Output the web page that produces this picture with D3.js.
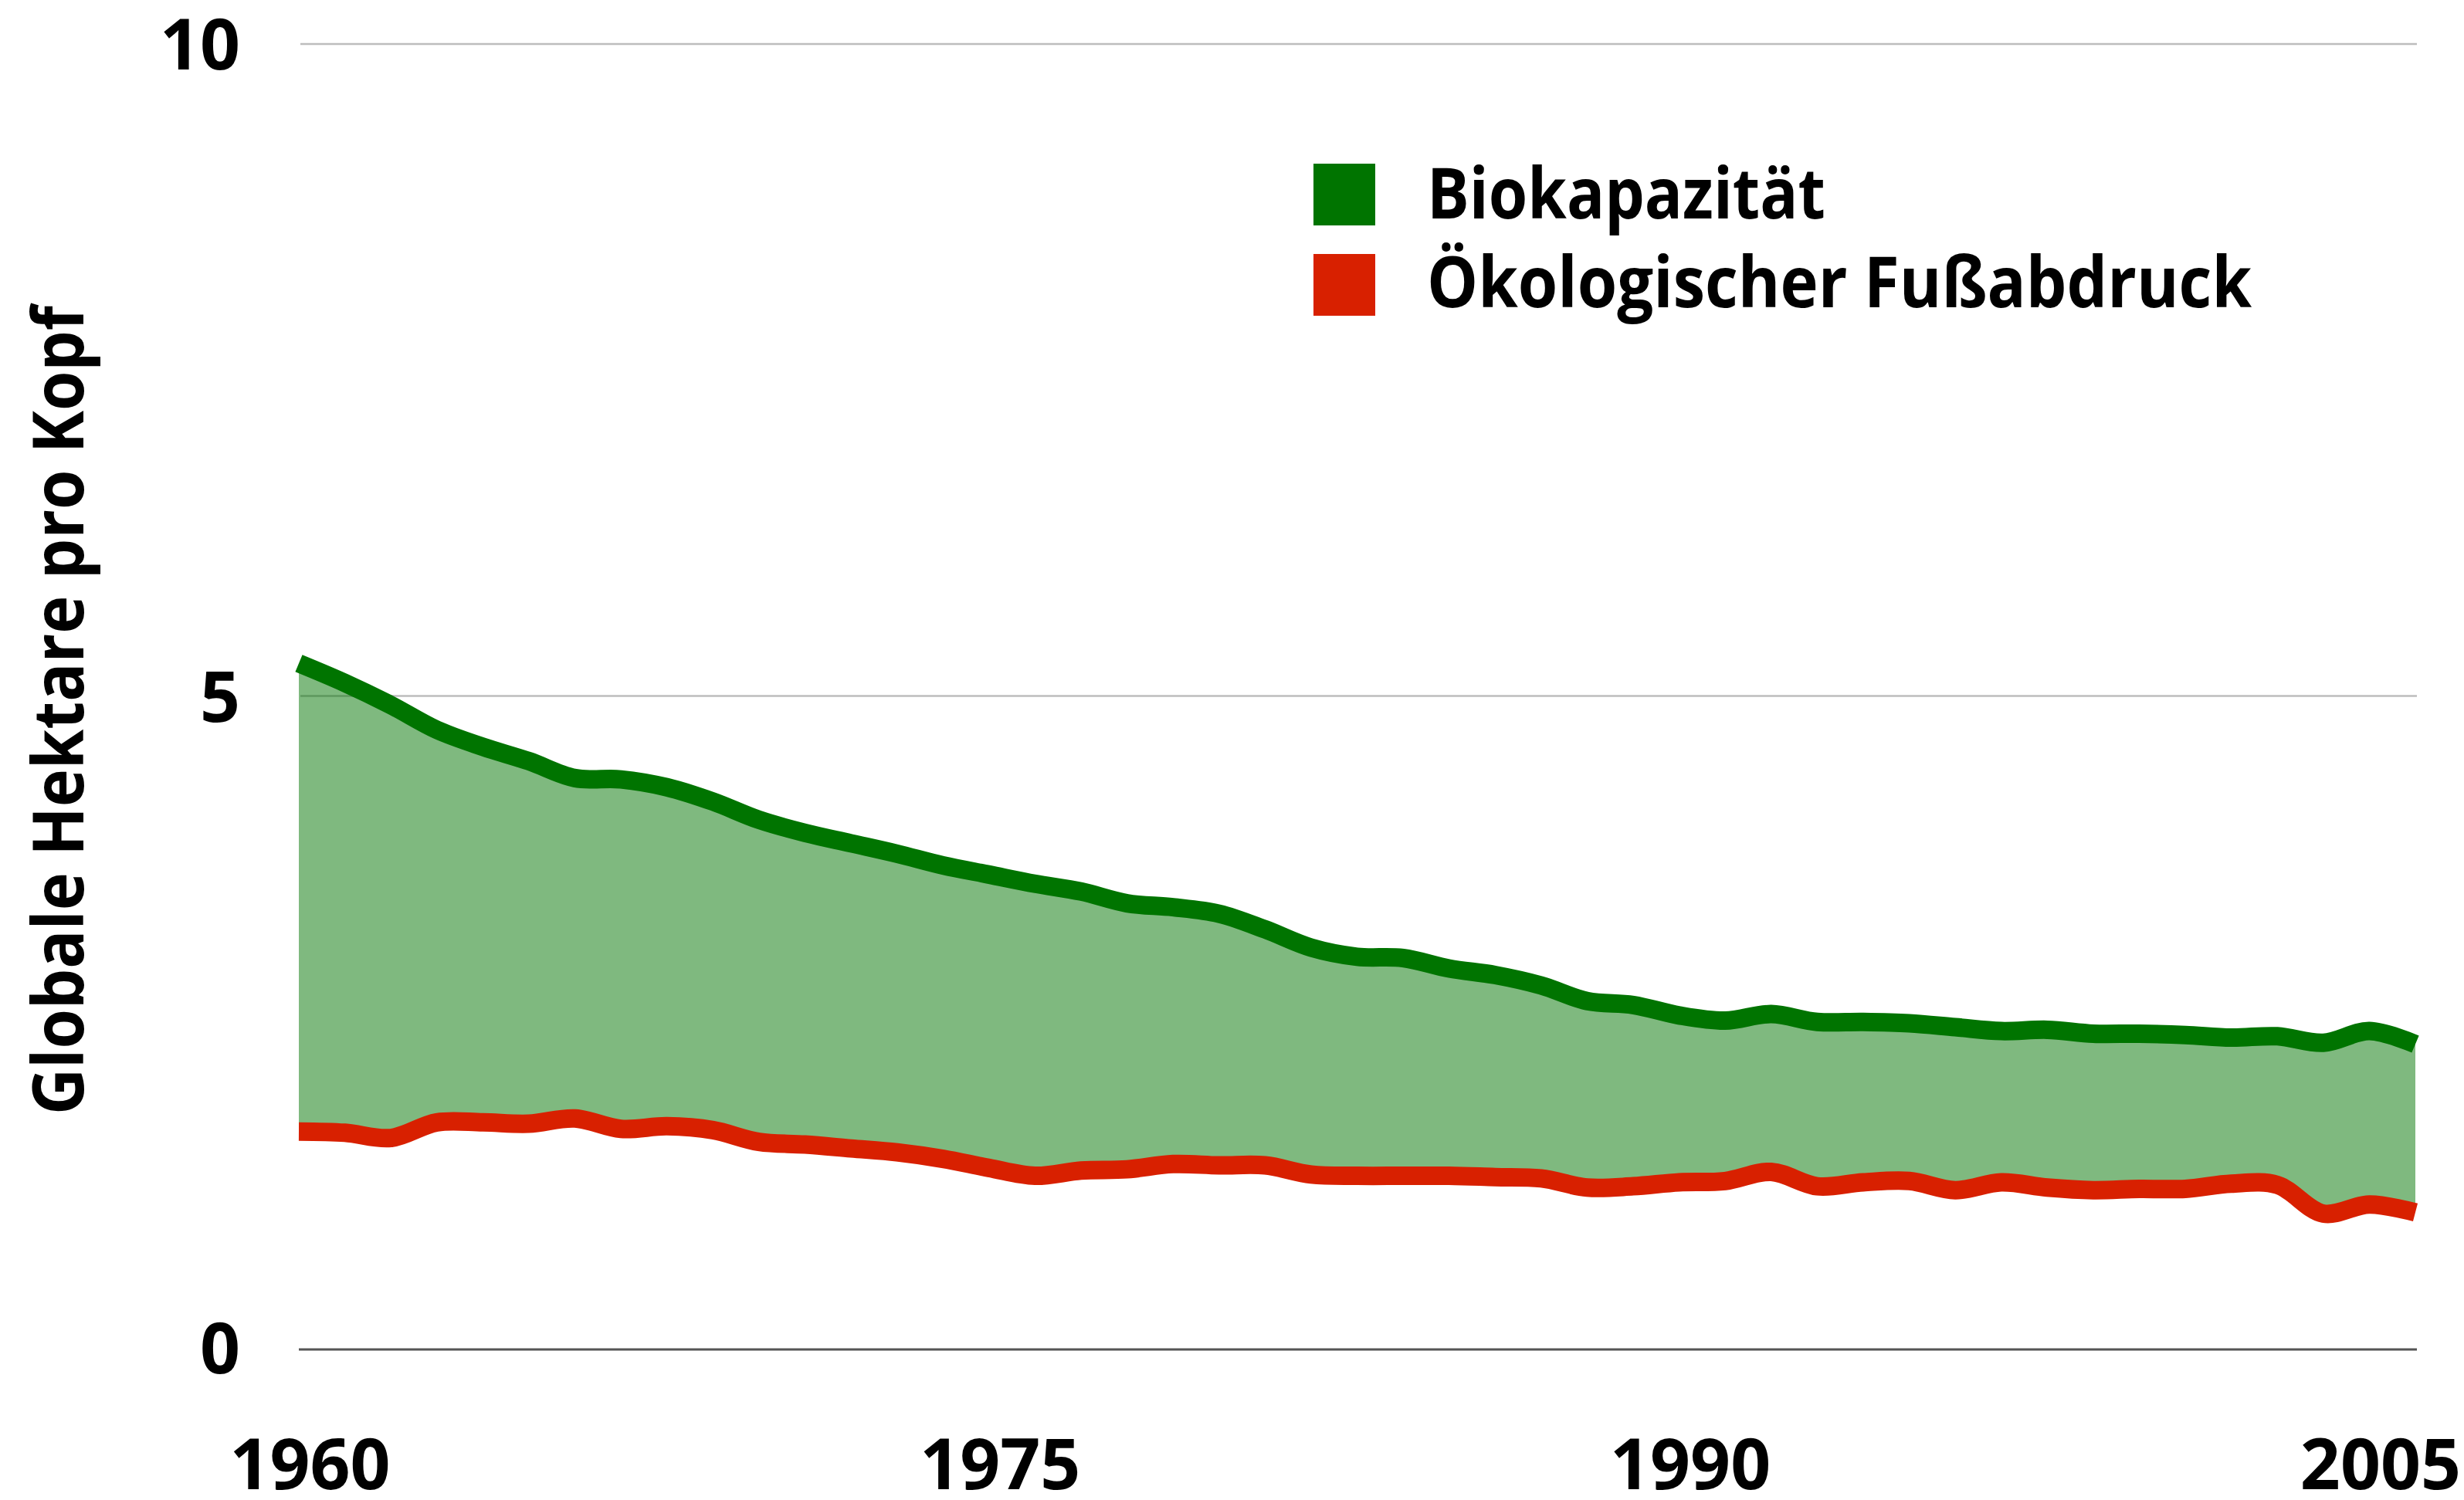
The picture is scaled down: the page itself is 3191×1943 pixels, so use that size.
<!DOCTYPE html>
<html>
<head>
<meta charset="utf-8">
<script src="https://cdn.jsdelivr.net/npm/d3@7"></script>
<style>
  html, body { margin: 0; padding: 0; background: #ffffff; }
  text { font-family: "Open Sans", "Noto Sans", "DejaVu Sans", sans-serif; font-weight: 700; fill: #000; }
</style>
</head>
<body>
<svg id="chart" width="3191" height="1943"></svg>
<script>
// ---- data ----
const years = [1960,1961,1962,1963,1964,1965,1966,1967,1968,1969,
               1970,1971,1972,1973,1974,1975,1976,1977,1978,1979,
               1980,1981,1982,1983,1984,1985,1986,1987,1988,1989,
               1990,1991,1992,1993,1994,1995,1996,1997,1998,1999,
               2000,2001,2002,2003,2004,2005,2006];
const biokapazitaet = [5.25,5.10,4.93,4.74,4.61,4.50,4.37,4.36,4.30,4.19,
                       4.05,3.95,3.87,3.79,3.70,3.63,3.56,3.50,3.41,3.38,
                       3.33,3.21,3.07,3.00,2.99,2.91,2.86,2.78,2.66,2.63,
                       2.55,2.51,2.56,2.50,2.50,2.49,2.46,2.43,2.44,2.41,
                       2.41,2.40,2.38,2.39,2.34,2.43,2.33];
const fussabdruck = [1.66,1.65,1.61,1.73,1.73,1.72,1.76,1.68,1.70,1.67,
                     1.58,1.56,1.53,1.50,1.45,1.38,1.32,1.36,1.37,1.41,
                     1.40,1.40,1.33,1.32,1.32,1.32,1.31,1.30,1.23,1.24,
                     1.27,1.28,1.35,1.24,1.27,1.28,1.21,1.27,1.23,1.21,
                     1.22,1.22,1.26,1.25,1.03,1.10,1.04];
const yTickValues = [0, 5, 10];
const xTickYears = [1960, 1975, 1990, 2005];
const legendLabels = ["Biokapazität", "Ökologischer Fußabdruck"];
const yAxisTitle = "Globale Hektare pro Kopf";

// ---- styles ----
const GREEN = "#007400";
const RED = "#d82000";

const svg = d3.select("#chart");
svg.append("rect").attr("width", 3191).attr("height", 1943).attr("fill", "#fff");

const x = d3.scaleLinear().domain([1960, 2006]).range([387, 3128]);
const y = d3.scaleLinear().domain([0, 10]).range([1746, 57]);

const rows = years.map((yr, i) => ({ year: yr, bio: biokapazitaet[i], eco: fussabdruck[i] }));

// gridlines
svg.append("g").selectAll("line")
  .data(yTickValues.filter(v => v !== 0))
  .join("line")
  .attr("x1", x(1960) + 2).attr("x2", x(2006) + 2)
  .attr("y1", d => y(d)).attr("y2", d => y(d))
  .attr("stroke", "#bdbdbd").attr("stroke-width", 2.6);

// baseline
svg.append("line")
  .attr("x1", x(1960)).attr("x2", x(2006) + 2)
  .attr("y1", y(0) + 2).attr("y2", y(0) + 2)
  .attr("stroke", "#555").attr("stroke-width", 3);

const curve = d3.curveCatmullRom.alpha(0.5);

// area between the two series
svg.append("path")
  .datum(rows)
  .attr("d", d3.area().x(d => x(d.year)).y0(d => y(d.eco)).y1(d => y(d.bio)).curve(curve))
  .attr("fill", GREEN).attr("fill-opacity", 0.5);

// lines
svg.append("path")
  .datum(rows)
  .attr("d", d3.line().x(d => x(d.year)).y(d => y(d.eco)).curve(curve))
  .attr("fill", "none").attr("stroke", RED).attr("stroke-width", 24).attr("stroke-linecap", "butt");
svg.append("path")
  .datum(rows)
  .attr("d", d3.line().x(d => x(d.year)).y(d => y(d.bio)).curve(curve))
  .attr("fill", "none").attr("stroke", GREEN).attr("stroke-width", 24).attr("stroke-linecap", "butt");

// y axis labels
const yAxis = svg.append("g")
  .attr("transform", "translate(311,0)")
  .call(d3.axisLeft(y).tickValues(yTickValues).tickFormat(d3.format("d")).tickSize(0).tickPadding(0));
yAxis.select(".domain").remove();
yAxis.selectAll("text")
  .attr("font-family", "'Open Sans', 'Noto Sans', sans-serif")
  .attr("font-weight", 700).attr("font-size", 91).attr("fill", "#000")
  .attr("dy", "0.36em");

// x axis labels
const xAxis = svg.append("g")
  .attr("transform", "translate(14,1864)")
  .call(d3.axisBottom(x).tickValues(xTickYears).tickFormat(d3.format("d")).tickSize(0).tickPadding(0));
xAxis.select(".domain").remove();
xAxis.selectAll("text")
  .attr("font-family", "'Open Sans', 'Noto Sans', sans-serif")
  .attr("font-weight", 700).attr("font-size", 91).attr("fill", "#000");

// y axis title
svg.append("text")
  .attr("transform", "translate(108,920) rotate(-90)")
  .attr("text-anchor", "middle")
  .attr("font-size", 91)
  .attr("textLength", 1048).attr("lengthAdjust", "spacingAndGlyphs")
  .text(yAxisTitle);

// legend
const legendColors = [GREEN, RED];
const legendWidths = [516, 1068];
const lg = svg.append("g");
legendLabels.forEach((lab, i) => {
  lg.append("rect")
    .attr("x", 1701).attr("y", 212 + i * 117)
    .attr("width", 80).attr("height", 80)
    .attr("fill", legendColors[i]);
  lg.append("text")
    .attr("x", 1848).attr("y", 283 + i * 115)
    .attr("font-size", 92)
    .attr("textLength", legendWidths[i]).attr("lengthAdjust", "spacingAndGlyphs")
    .text(lab);
});
</script>
</body>
</html>
